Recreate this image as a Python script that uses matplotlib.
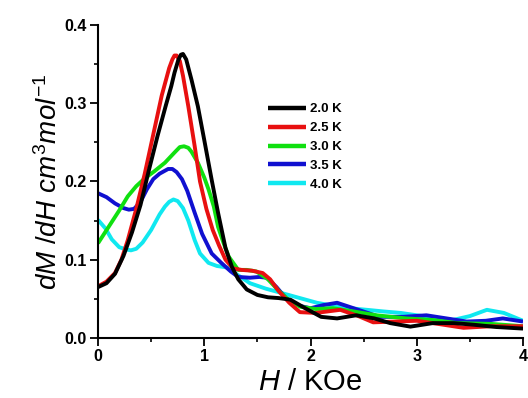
import matplotlib
matplotlib.use("Agg")
import matplotlib.pyplot as plt

plt.rcParams['font.family'] = ['Liberation Sans', 'DejaVu Sans']
plt.rcParams['mathtext.fontset'] = 'custom'
plt.rcParams['mathtext.rm'] = 'Liberation Sans'
plt.rcParams['mathtext.it'] = 'Liberation Sans:italic'

# field H (kOe) and dM/dH for each temperature
x_20 = [0, 0.08, 0.16, 0.24, 0.32, 0.40, 0.48, 0.56, 0.64, 0.69, 0.72, 0.755, 0.78,
        0.80, 0.83, 0.88, 0.94, 1.0, 1.07, 1.13, 1.20, 1.26, 1.32, 1.40, 1.50, 1.60,
        1.70, 1.81, 1.95, 2.10, 2.25, 2.43, 2.60, 2.75, 2.94, 3.15, 3.35, 3.53, 3.75,
        4.0]
y_20 = [0.065, 0.070, 0.082, 0.105, 0.135, 0.170, 0.215, 0.258, 0.298, 0.322, 0.339,
        0.355, 0.362, 0.363, 0.356, 0.33, 0.296, 0.253, 0.202, 0.160, 0.115, 0.091,
        0.075, 0.062, 0.055, 0.052, 0.051, 0.049, 0.038, 0.027, 0.025, 0.029, 0.025,
        0.019, 0.0145, 0.019, 0.019, 0.017, 0.014, 0.012]

x_25 = [0, 0.08, 0.16, 0.22, 0.28, 0.36, 0.44, 0.52, 0.60, 0.64, 0.67, 0.70, 0.72,
        0.74, 0.77, 0.80, 0.85, 0.91, 0.96, 1.02, 1.08, 1.14, 1.20, 1.27, 1.35, 1.45,
        1.55, 1.62, 1.70, 1.80, 1.90, 2.05, 2.28, 2.45, 2.59, 2.80, 3.0, 3.2, 3.44,
        3.7, 4.0]
y_25 = [0.066, 0.072, 0.083, 0.100, 0.125, 0.165, 0.21, 0.26, 0.31, 0.330, 0.345,
        0.356, 0.361, 0.361, 0.354, 0.335, 0.296, 0.245, 0.200, 0.165, 0.138, 0.118,
        0.100, 0.089, 0.087, 0.086, 0.083, 0.075, 0.060, 0.045, 0.033, 0.032, 0.036,
        0.028, 0.020, 0.021, 0.022, 0.018, 0.013, 0.015, 0.015]

x_30 = [0, 0.1, 0.2, 0.28, 0.36, 0.44, 0.53, 0.63, 0.72, 0.77, 0.81, 0.85, 0.88,
        0.94, 1.0, 1.04, 1.09, 1.13, 1.18, 1.23, 1.32, 1.40, 1.49, 1.60, 1.71, 1.80,
        1.90, 2.05, 2.21, 2.40, 2.62, 2.9, 3.15, 3.38, 3.7, 4.0]
y_30 = [0.121, 0.142, 0.163, 0.181, 0.194, 0.204, 0.213, 0.224, 0.237, 0.244, 0.245,
        0.243, 0.238, 0.224, 0.205, 0.190, 0.168, 0.142, 0.122, 0.104, 0.087, 0.087,
        0.085, 0.075, 0.059, 0.048, 0.040, 0.037, 0.038, 0.034, 0.029, 0.025, 0.023,
        0.019, 0.018, 0.015]

x_35 = [0, 0.08, 0.16, 0.24, 0.29, 0.34, 0.40, 0.46, 0.52, 0.58, 0.62, 0.66, 0.70,
        0.74, 0.79, 0.84, 0.91, 0.98, 1.07, 1.16, 1.25, 1.32, 1.43, 1.52, 1.59, 1.68,
        1.78, 1.9, 2.0, 2.12, 2.25, 2.45, 2.65, 2.87, 3.09, 3.28, 3.47, 3.65, 3.81, 4.0]
y_35 = [0.185, 0.180, 0.172, 0.166, 0.164, 0.165, 0.174, 0.190, 0.203, 0.210, 0.213,
        0.216, 0.216, 0.212, 0.203, 0.188, 0.160, 0.133, 0.108, 0.096, 0.085, 0.078,
        0.077, 0.078, 0.077, 0.065, 0.049, 0.041, 0.038, 0.042, 0.045, 0.036, 0.027,
        0.027, 0.029, 0.025, 0.021, 0.022, 0.025, 0.021]

x_40 = [0, 0.07, 0.13, 0.2, 0.27, 0.31, 0.36, 0.42, 0.5, 0.58, 0.63, 0.67, 0.71, 0.75,
        0.80, 0.85, 0.91, 0.96, 1.04, 1.12, 1.22, 1.32, 1.43, 1.58, 1.74, 1.9, 2.06,
        2.22, 2.37, 2.53, 2.68, 2.85, 3.0, 3.17, 3.34, 3.5, 3.66, 3.82, 4.0]
y_40 = [0.151, 0.140, 0.126, 0.116, 0.113, 0.112, 0.114, 0.122, 0.138, 0.158, 0.168,
        0.174, 0.177, 0.175, 0.166, 0.150, 0.125, 0.108, 0.096, 0.092, 0.090, 0.080,
        0.070, 0.063, 0.057, 0.051, 0.045, 0.041, 0.038, 0.036, 0.034, 0.032, 0.029,
        0.026, 0.023, 0.028, 0.036, 0.032, 0.022]

labels = ["2.0 K", "2.5 K", "3.0 K", "3.5 K", "4.0 K"]
colors = ["#000000", "#e81010", "#10e010", "#1010d0", "#10e8f0"]

fig = plt.figure(figsize=(5.28, 3.98), dpi=100)
ax = fig.add_axes([0.1856, 0.1508, 0.805, 0.7864])

series = [(x_20, y_20), (x_25, y_25), (x_30, y_30), (x_35, y_35), (x_40, y_40)]
# draw the coolest last so black/red sit on top like the original
for (xs, ys), lab, col in reversed(list(zip(series, labels, colors))):
    ax.plot(xs, ys, color=col, lw=2.8, label=lab, solid_joinstyle='round',
            solid_capstyle='butt')

ax.set_xlim(0, 4)
ax.set_ylim(0, 0.4)
ax.set_xticks([0, 1, 2, 3, 4])
ax.set_xticks([0.5, 1.5, 2.5, 3.5], minor=True)
ax.set_yticks([0.0, 0.1, 0.2, 0.3, 0.4])
ax.set_yticks([0.05, 0.15, 0.25, 0.35], minor=True)
ax.yaxis.set_major_formatter(matplotlib.ticker.FormatStrFormatter("%.1f"))

for side in ("top", "right"):
    ax.spines[side].set_visible(False)
for side in ("left", "bottom"):
    ax.spines[side].set_linewidth(1.5)
ax.tick_params(which="major", direction="out", length=5.5, width=1.3,
               labelsize=11.5, pad=2.5)
ax.tick_params(which="minor", direction="out", length=3, width=1.2)
for t in ax.get_xticklabels() + ax.get_yticklabels():
    t.set_fontweight("bold")

ax.set_xlabel(r"$H$ / KOe", fontsize=21, labelpad=3)
ax.set_ylabel(r"$dM$ /$dH$ $cm^3$$mol^{-1}$", fontsize=20, labelpad=1)

handles, labs = ax.get_legend_handles_labels()
leg = ax.legend(handles[::-1], labs[::-1], loc="upper left",
                bbox_to_anchor=(0.4, 0.75), frameon=False, borderpad=0,
                borderaxespad=0, handlelength=2.9, handletextpad=0.25,
                labelspacing=0.5, prop={"weight": "bold", "size": 9.5})
for line in leg.get_lines():
    line.set_linewidth(3.2)

fig.savefig("out.png", dpi=100)
